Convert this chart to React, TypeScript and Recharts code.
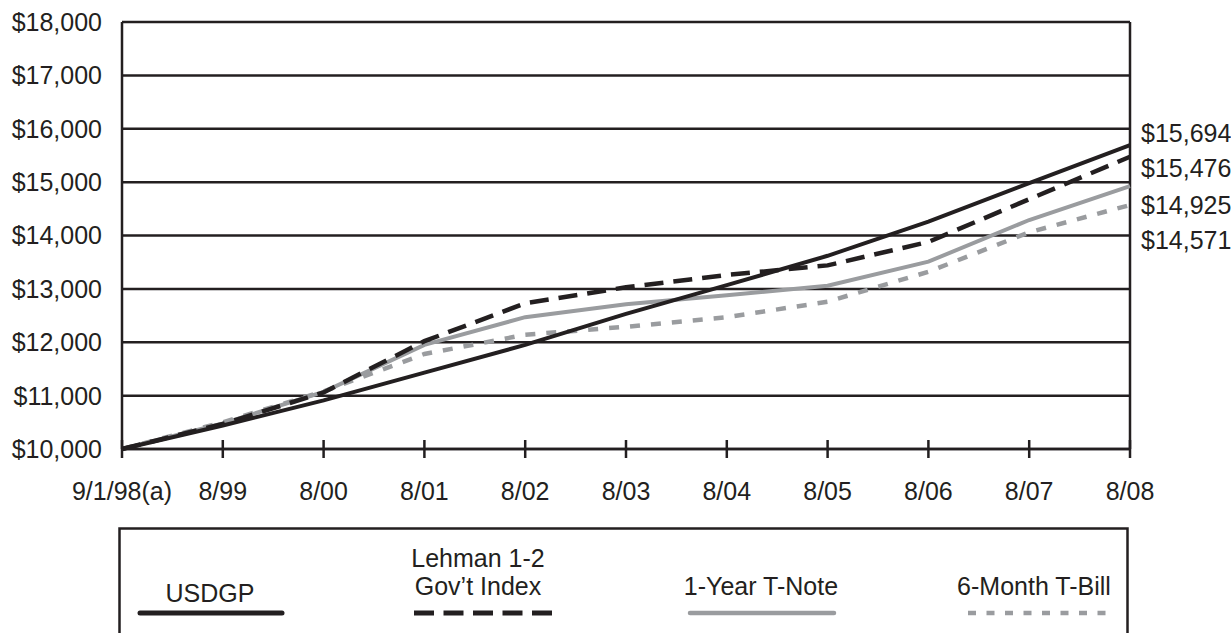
import { LineChart, Line, XAxis, YAxis, CartesianGrid, ReferenceLine, LabelList } from 'recharts'

// Growth of $10,000
const periods = ['9/1/98(a)', '8/99', '8/00', '8/01', '8/02', '8/03', '8/04', '8/05', '8/06', '8/07', '8/08']
const usdgp = [10000, 10440, 10910, 11430, 11950, 12530, 13070, 13620, 14260, 14980, 15694]
const lehman = [10000, 10470, 11060, 12020, 12730, 13030, 13260, 13440, 13880, 14680, 15476]
const oneYearNote = [10000, 10480, 11070, 11950, 12470, 12710, 12880, 13060, 13510, 14290, 14925]
const sixMonthBill = [10000, 10500, 11080, 11780, 12140, 12290, 12470, 12760, 13320, 14060, 14571]
const yTicks = [10000, 11000, 12000, 13000, 14000, 15000, 16000, 17000, 18000]

const INK = '#231f20'
const GRAY = '#9a9c9f'
const FONT = "'Liberation Sans', Arial, Helvetica, sans-serif"

const series = [
  { key: 'usdgp', values: usdgp, label: ['USDGP'], color: INK, width: 4, dash: undefined, legendDash: undefined, legendWidth: 5, cap: 'round', labelShift: -12, legendX: 210, legendY: [593], legendLine: [140, 282] },
  { key: 'lehman', values: lehman, label: ['Lehman 1-2', 'Gov’t Index'], color: INK, width: 4.5, dash: '19 10', legendDash: '20 9.5', legendWidth: 5, cap: 'butt', labelShift: 11, legendX: 478, legendY: [558, 586], legendLine: [414, 552] },
  { key: 'oneYear', values: oneYearNote, label: ['1-Year T-Note'], color: GRAY, width: 4, dash: undefined, legendDash: undefined, legendWidth: 4.5, cap: 'round', labelShift: 19, legendX: 761, legendY: [586], legendLine: [690, 834] },
  { key: 'sixMonth', values: sixMonthBill, label: ['6-Month T-Bill'], color: GRAY, width: 4.5, dash: '10 11', legendDash: '8 10.5', legendWidth: 4.5, cap: 'butt', labelShift: 35, legendX: 1034, legendY: [586], legendLine: [968, 1107] },
]

const chartData = periods.map((period, i) => {
  const row: Record<string, string | number> = { period }
  series.forEach((s) => { row[s.key] = s.values[i] })
  return row
})

const money = (v: number) => `$${Number(v).toLocaleString('en-US')}`

function XTick(props: any) {
  const { x, y, payload } = props
  return (
    <g>
      <line x1={x} x2={x} y1={y - 9} y2={y + 9} stroke={INK} strokeWidth={2.5} />
      <text x={x} y={y + 51} textAnchor="middle" fill={INK} fontSize={25} fontFamily={FONT}>
        {payload.value}
      </text>
    </g>
  )
}

// value tag at the right end of each line
const endLabel = (shift: number) => (props: any) => {
  const { x, y, index, value } = props
  if (index !== periods.length - 1) return null
  return (
    <text x={x + 11} y={y + shift} dy="0.355em" fill={INK} fontSize={25} fontFamily={FONT}>
      {money(value)}
    </text>
  )
}

export default function App() {
  return (
    <div style={{ position: 'fixed', top: 0, left: 0, width: 1231, height: 633, overflow: 'hidden', background: '#fff' }}>
      <LineChart width={1231} height={640} data={chartData} margin={{ top: 22, right: 101, bottom: 151, left: 0 }}>
        <CartesianGrid vertical={false} stroke={INK} strokeWidth={2.5} />
        <XAxis
          dataKey="period"
          interval={0}
          height={40}
          tickSize={0}
          tickMargin={0}
          tickLine={false}
          axisLine={{ stroke: INK, strokeWidth: 2.5 }}
          tick={<XTick />}
        />
        <YAxis
          width={122}
          domain={[10000, 18000]}
          ticks={yTicks}
          tickSize={0}
          tickMargin={20}
          tickLine={false}
          axisLine={{ stroke: INK, strokeWidth: 2.5 }}
          tickFormatter={money}
          tick={{ fill: INK, fontSize: 25, fontFamily: FONT }}
        />
        <ReferenceLine x={periods[periods.length - 1]} stroke={INK} strokeWidth={2.5} />
        {series.slice().reverse().map((s) => (
          <Line
            key={s.key}
            dataKey={s.key}
            type="linear"
            stroke={s.color}
            strokeWidth={s.width}
            strokeDasharray={s.dash}
            dot={false}
            activeDot={false}
            isAnimationActive={false}
          >
            <LabelList dataKey={s.key} content={endLabel(s.labelShift)} />
          </Line>
        ))}
      </LineChart>

      {/* legend box, its bottom edge runs off the page */}
      <svg width={1231} height={633} style={{ position: 'absolute', left: 0, top: 0, pointerEvents: 'none' }}>
        <polyline points="119.5,700 119.5,528.5 1127.5,528.5 1127.5,700" fill="none" stroke={INK} strokeWidth={2.5} />
        {series.map((s) => (
          <g key={s.key}>
            {s.label.map((line, i) => (
              <text key={line} x={s.legendX} y={s.legendY[i]} dy="0.355em" textAnchor="middle" fill={INK} fontSize={25} fontFamily={FONT}>
                {line}
              </text>
            ))}
            <line
              x1={s.legendLine[0]}
              x2={s.legendLine[1]}
              y1={613}
              y2={613}
              stroke={s.color}
              strokeWidth={s.legendWidth}
              strokeDasharray={s.legendDash}
              strokeLinecap={s.cap as any}
            />
          </g>
        ))}
      </svg>
    </div>
  )
}
